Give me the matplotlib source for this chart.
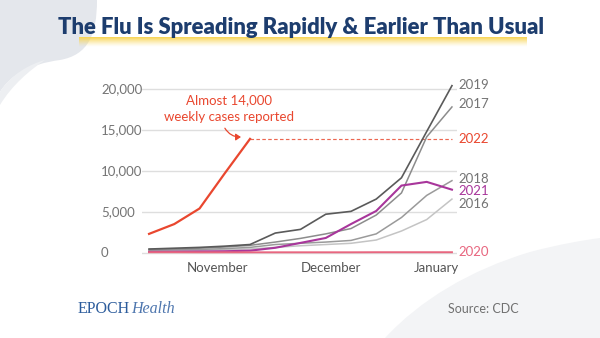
import numpy as np
import matplotlib.pyplot as plt
from matplotlib.patches import PathPatch, FancyArrowPatch
from matplotlib.path import Path

# ---- data -------------------------------------------------------------
weeks = list(range(13))
month_labels = ["November", "December", "January"]
month_positions = [2.7, 7.2, 11.4]
y_ticks = [0, 5000, 10000, 15000, 20000]
y_tick_labels = ["0", "5,000", "10,000", "15,000", "20,000"]

season_2022 = [2300, 3500, 5400, 9700, 13900]
season_2019 = [450, 550, 650, 800, 1000, 2400, 2850, 4700, 5050, 6550, 9150, 14800, 20400]
season_2017 = [400, 450, 550, 700, 900, 1300, 1750, 2300, 2950, 4600, 7300, 14150, 17800]
season_2018 = [300, 350, 400, 500, 650, 1000, 1150, 1300, 1500, 2300, 4300, 7000, 8800]
season_2016 = [200, 250, 300, 380, 450, 650, 850, 1000, 1150, 1550, 2650, 4050, 6550]
season_2021 = [100, 120, 150, 180, 250, 600, 1200, 1800, 3500, 5100, 8200, 8650, 7700]
season_2020 = [60, 60, 50, 50, 50, 50, 50, 50, 50, 60, 60, 60, 60]

annotation_lines = ["Almost 14,000", "weekly cases reported"]

# ---- styling ----------------------------------------------------------
FONT = "Lato"
RED = "#E9472F"
PURPLE = "#A8369B"
PINK = "#E8667F"
NAVY = "#1D3D6E"
LABEL_GRAY = "#747474"

series = [
    ("2016", season_2016, "#C4C4C4", LABEL_GRAY, 1.1, -650),
    ("2018", season_2018, "#9A9A9A", LABEL_GRAY, 1.1, 200),
    ("2017", season_2017, "#8C8C8C", LABEL_GRAY, 1.1, 350),
    ("2019", season_2019, "#5A5A5A", LABEL_GRAY, 1.2, 50),
    ("2021", season_2021, PURPLE, PURPLE, 1.5, -150),
    ("2020", season_2020, PINK, PINK, 1.4, 0),
]

W, H = 600, 338
fig = plt.figure(figsize=(W / 100, H / 100), dpi=100)
fig.patch.set_facecolor("white")

# background canvas in pixel units
bg = fig.add_axes([0, 0, 1, 1], zorder=0)
bg.set_xlim(0, W)
bg.set_ylim(H, 0)
bg.axis("off")

M, L, C = Path.MOVETO, Path.LINETO, Path.CURVE4

def shape(ax, verts, codes, color):
    ax.add_patch(PathPatch(Path(verts, codes), facecolor=color, edgecolor="none"))

# soft decorative shapes
shape(bg,
      [(0, 0), (97, 0),
       (97, 35), (88, 55), (60, 60),
       (30, 64), (10, 75), (0, 92),
       (0, 0)],
      [M, L, C, C, C, C, C, C, L], "#E4E7EC")
shape(bg,
      [(0, 92), (10, 75), (30, 64), (45, 60),
       (30, 70), (12, 85), (0, 105),
       (0, 92)],
      [M, C, C, C, C, C, C, L], "#EDEFF2")
shape(bg,
      [(385, 338),
       (420, 300), (470, 270), (530, 252),
       (560, 244), (585, 240), (600, 238),
       (600, 338), (385, 338)],
      [M, C, C, C, C, C, C, L, L], "#F3F4F6")

# title highlight bar (yellow fading downward)
grad = np.linspace(0, 1, 40)[:, None]
yellow = np.array([0.976, 0.835, 0.325])
img = np.ones((40, 1, 4))
img[..., :3] = yellow
img[..., 3] = (1 - grad) ** 1.3
bg.imshow(img, extent=(79, 527, 47, 37), aspect="auto", interpolation="bilinear", zorder=1)

bg.text(301, 28, "The Flu Is Spreading Rapidly & Earlier Than Usual",
        ha="center", va="center", fontsize=15.9, fontweight="heavy",
        color=NAVY, family=FONT, zorder=2)

# footer
bg.text(78, 309, "EPOCH", ha="left", va="center", fontsize=11.5,
        family="Liberation Serif", color="#2C5C9C")
bg.text(131, 309, "Health", ha="left", va="center", fontsize=11.5,
        family="Liberation Serif", style="italic", color="#4E76AE")
bg.text(448, 309, "Source: CDC", ha="left", va="center", fontsize=9,
        family=FONT, color="#707070")

# ---- chart ------------------------------------------------------------
ax = fig.add_axes([142 / W, 0.2281, 315 / W, 0.533], zorder=2)
ax.patch.set_alpha(0)
ax.set_xlim(-0.28, 12.2)
ax.set_ylim(-1000, 21000)
for s in ax.spines.values():
    s.set_visible(False)
ax.set_xticks([])
ax.set_yticks([])

for yv, lab in zip(y_ticks, y_tick_labels):
    ax.axhline(yv, color="#DEDEDE", lw=1.0, zorder=1)
    ax.annotate(lab, xy=(0, yv), xycoords=("axes fraction", "data"),
                xytext=(-29.5, 0), textcoords="offset points",
                ha="left", va="center", fontsize=9.5, family=FONT,
                color=LABEL_GRAY, annotation_clip=False)

for name, pos in zip(month_labels, month_positions):
    ax.text(pos, -1900, name, ha="center", va="center", fontsize=9.5,
            family=FONT, color="#555555", clip_on=False)

for name, vals, col, lcol, lw, nudge in series:
    ax.plot(weeks, vals, color=col, lw=lw, zorder=3, clip_on=False,
            solid_joinstyle="miter")
    ax.text(12.25, vals[-1] + nudge, name, ha="left", va="center",
            fontsize=9.5, family=FONT, color=lcol, clip_on=False)

# current season, with a dashed reference at its latest value
ax.plot(weeks[:len(season_2022)], season_2022, color=RED, lw=1.6, zorder=4)
ax.plot([weeks[len(season_2022) - 1], weeks[-1]], [season_2022[-1]] * 2,
        color="#EC6650", lw=0.85, ls=(0, (3, 2)), zorder=2)
ax.text(12.25, season_2022[-1], "2022", ha="left", va="center",
        fontsize=9.5, family=FONT, color=RED, clip_on=False)

ax.text(3.15, 18600, annotation_lines[0], ha="center", va="center",
        fontsize=9.5, family=FONT, color=RED)
ax.text(3.15, 16550, annotation_lines[1], ha="center", va="center",
        fontsize=9.5, family=FONT, color=RED)
ax.add_patch(FancyArrowPatch((2.95, 15500), (3.75, 14150),
                             connectionstyle="arc3,rad=0.35",
                             arrowstyle="-|>,head_length=3,head_width=2",
                             color=RED, lw=0.9, zorder=5))

fig.savefig("out.png", dpi=100)
